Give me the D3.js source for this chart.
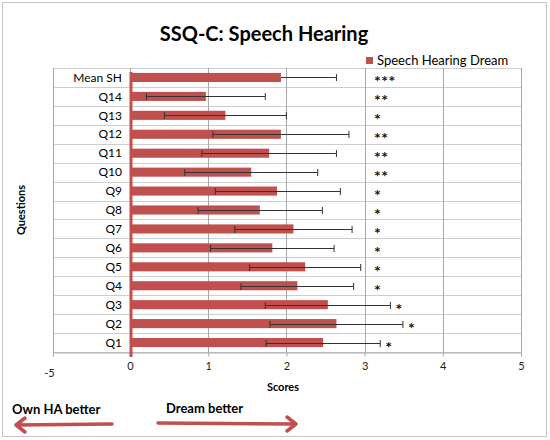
<!DOCTYPE html>
<meta charset="utf-8">
<style>
body { margin: 0; background: #fff; }
text { font-family: Lato, "Open Sans", sans-serif; }
</style>
<svg width="550" height="440"></svg>
<script src="https://d3js.org/d3.v7.min.js"></script>
<script>
// questions, top to bottom as drawn
var questions = ['Mean SH', 'Q14', 'Q13', 'Q12', 'Q11', 'Q10', 'Q9', 'Q8', 'Q7', 'Q6', 'Q5', 'Q4', 'Q3', 'Q2', 'Q1']
var scores    = [1.93, 0.97, 1.22, 1.93, 1.78, 1.55, 1.88, 1.66, 2.09, 1.82, 2.24, 2.14, 2.53, 2.64, 2.47]
var errLow    = [0,    0.76, 0.78, 0.87, 0.86, 0.85, 0.79, 0.79, 0.75, 0.79, 0.71, 0.72, 0.80, 0.85, 0.73]
var errHigh   = [0.71, 0.76, 0.78, 0.87, 0.86, 0.85, 0.81, 0.80, 0.75, 0.79, 0.71, 0.72, 0.80, 0.85, 0.73]
var stars     = ['***', '**', '*', '**', '**', '**', '*', '*', '*', '*', '*', '*', '*', '*', '*']
var tickVals  = [-5, 0, 1, 2, 3, 4, 5]
var gridVals  = [0, 1, 2, 3, 4, 5]

var red = '#c0504d'
const svg = d3.select('svg')

// outer frame
svg.append('rect')
  .attr('x', 2.5).attr('y', 2.5)
  .attr('width', 544).attr('height', 434)
  .attr('fill', 'none').attr('stroke', '#c4c4c4')

const plotL = 53, plotR = 521, plotT = 68, plotB = 352

// left part of the axis (-5..0) is squeezed, like the original
const x = d3.scaleLinear().domain([-5, 0, 5]).range([plotL, 130, plotR])
const y = d3.scaleBand().domain(questions).range([plotT, plotB])
  .paddingInner(0.52).paddingOuter(0.26)

// title
svg.append('text')
  .attr('x', 264).attr('y', 41)
  .attr('text-anchor', 'middle')
  .attr('font-size', 20).attr('font-weight', 'bold')
  .text('SSQ-C: Speech Hearing')

// legend
svg.append('rect').attr('x', 366).attr('y', 57).attr('width', 7).attr('height', 7).attr('fill', red)
svg.append('text')
  .attr('x', 377).attr('y', 65)
  .attr('font-size', 13)
  .text('Speech Hearing Dream')

// horizontal grid, one line per row boundary
var rowEdges = d3.range(questions.length + 1).map(i => plotT + i * y.step())
svg.append('g').selectAll('line')
  .data(rowEdges)
  .enter().append('line')
  .attr('x1', plotL).attr('x2', plotR)
  .attr('y1', d => Math.round(d) + 0.5).attr('y2', d => Math.round(d) + 0.5)
  .attr('stroke', '#cdcdcd')

// vertical grid
svg.append('g').selectAll('line')
  .data([-5].concat(gridVals))
  .enter().append('line')
  .attr('x1', d => Math.round(x(d)) + 0.5).attr('x2', d => Math.round(x(d)) + 0.5)
  .attr('y1', plotT).attr('y2', plotB)
  .attr('stroke', '#a8a8a8')

// x axis
const axis = svg.append('g')
  .attr('transform', 'translate(0,' + (plotB + 0.5) + ')')
  .call(d3.axisBottom(x).tickValues(tickVals).tickSize(4).tickPadding(6).tickFormat(d => String(d)))
axis.select('.domain').attr('stroke', '#a8a8a8')
axis.selectAll('.tick line').attr('stroke', '#a8a8a8')
axis.selectAll('.tick text')
  .attr('font-family', 'Lato, sans-serif')
  .attr('font-size', 11).attr('fill', '#222')
axis.selectAll('.tick').filter(d => d === -5).select('text')
  .attr('dx', -4).attr('dy', '1.35em')

// category labels
svg.append('g').selectAll('text')
  .data(questions)
  .enter().append('text')
  .attr('x', 122)
  .attr('y', d => y(d) + y.bandwidth() / 2)
  .attr('dy', '0.35em')
  .attr('text-anchor', 'end')
  .attr('font-size', 12)
  .text(d => d)

// bars
svg.append('g').selectAll('rect')
  .data(questions)
  .enter().append('rect')
  .attr('x', x(0))
  .attr('y', d => y(d))
  .attr('width', (d, i) => x(scores[i]) - x(0))
  .attr('height', y.bandwidth())
  .attr('fill', red)

// zero line
svg.append('line')
  .attr('x1', x(0) + 1).attr('x2', x(0) + 1)
  .attr('y1', y(questions[0]) - 1).attr('y2', plotB + 5)
  .attr('stroke', red).attr('stroke-width', 3)

// error bars
var errG = svg.append('g').attr('stroke', '#333').attr('stroke-width', 1)
questions.forEach((q, i) => {
  var cy = Math.round(y(q) + y.bandwidth() / 2) + 0.5
  var lo = x(scores[i] - errLow[i]), hi = x(scores[i] + errHigh[i])
  errG.append('line').attr('x1', lo).attr('x2', hi).attr('y1', cy).attr('y2', cy)
  errG.append('line').attr('x1', hi).attr('x2', hi).attr('y1', cy - 3.5).attr('y2', cy + 3.5)
  if (errLow[i] > 0) {
    errG.append('line').attr('x1', lo).attr('x2', lo).attr('y1', cy - 3.5).attr('y2', cy + 3.5)
  }
})

// significance stars
svg.append('g').selectAll('text')
  .data(questions)
  .enter().append('text')
  .attr('x', (d, i) => Math.max(x(3.12), x(scores[i] + errHigh[i]) + 5))
  .attr('y', d => y(d) + y.bandwidth() / 2 + 10)
  .attr('font-size', 16)
  .attr('font-weight', 'bold')
  .attr('fill', '#111')
  .attr('letter-spacing', 0.5)
  .text((d, i) => stars[i])

// axis titles
svg.append('text')
  .attr('x', 283).attr('y', 391)
  .attr('text-anchor', 'middle')
  .attr('font-size', 11).attr('font-weight', 'bold')
  .text('Scores')

svg.append('text')
  .attr('transform', 'translate(25,210) rotate(-90)')
  .attr('text-anchor', 'middle')
  .attr('font-size', 11).attr('font-weight', 'bold')
  .text('Questions')

// direction notes at the bottom
svg.append('text')
  .attr('x', 12).attr('y', 414)
  .attr('font-size', 13).attr('font-weight', 'bold')
  .text('Own HA better')
svg.append('text')
  .attr('x', 166).attr('y', 413)
  .attr('font-size', 13).attr('font-weight', 'bold')
  .text('Dream better')

var arrows = svg.append('g')
  .attr('stroke', red).attr('stroke-width', 3.5).attr('fill', 'none')
  .attr('stroke-linecap', 'round').attr('stroke-linejoin', 'round')
arrows.append('path').attr('d', 'M112,424 L16,425 M25,418 L16,425 L25,432')
arrows.append('path').attr('d', 'M158,423 L296,424 M287,417 L296,424 L287,431')
</script>
